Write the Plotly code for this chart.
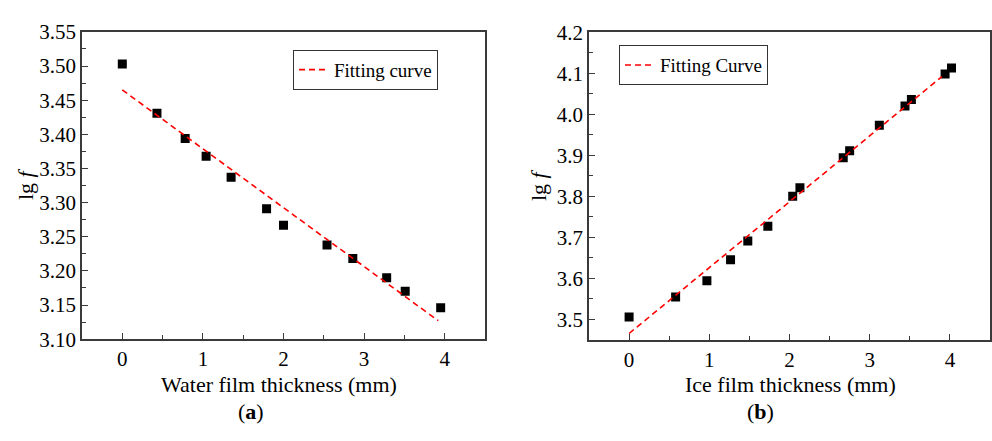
import plotly.graph_objects as go

# ---- data ----
water_x = [0.0, 0.43, 0.78, 1.04, 1.35, 1.79, 2.00, 2.54, 2.86, 3.28, 3.51, 3.95]
water_lgf = [3.503, 3.431, 3.394, 3.368, 3.337, 3.291, 3.267, 3.238, 3.218, 3.190, 3.170, 3.146]
water_fit_x = [0.0, 3.92]
water_fit_y = [3.465, 3.127]

ice_x = [0.0, 0.58, 0.97, 1.265, 1.48, 1.73, 2.04, 2.13, 2.67, 2.75, 3.12, 3.44, 3.52, 3.94, 4.02]
ice_lgf = [3.505, 3.554, 3.594, 3.645, 3.691, 3.727, 3.800, 3.821, 3.894, 3.911, 3.973, 4.020, 4.036, 4.098, 4.113]
ice_fit_x = [0.0, 3.9]
ice_fit_y = [3.465, 4.092]

left_ticks = [3.10, 3.15, 3.20, 3.25, 3.30, 3.35, 3.40, 3.45, 3.50, 3.55]
right_ticks = [3.5, 3.6, 3.7, 3.8, 3.9, 4.0, 4.1, 4.2]
x_ticks = [0, 1, 2, 3, 4]

W, H = 992, 441
FONT = "Liberation Serif"
AXC = "#3a3a3a"

def px(x):
    return x / W

def py(y):
    return 1 - y / H

fig = go.Figure()

marker = dict(symbol="square", size=9, color="black")
dash_line = dict(color="#ff0000", width=1.6, dash="6px,4px")

fig.add_trace(go.Scatter(x=water_x, y=water_lgf, mode="markers", marker=marker,
                         showlegend=False, xaxis="x", yaxis="y"))
fig.add_trace(go.Scatter(x=water_fit_x, y=water_fit_y, mode="lines", line=dash_line,
                         name="Fitting curve", legend="legend", xaxis="x", yaxis="y"))
fig.add_trace(go.Scatter(x=ice_x, y=ice_lgf, mode="markers", marker=marker,
                         showlegend=False, xaxis="x2", yaxis="y2"))
fig.add_trace(go.Scatter(x=ice_fit_x, y=ice_fit_y, mode="lines", line=dash_line,
                         name="Fitting Curve", legend="legend2", xaxis="x2", yaxis="y2"))

tickfont = dict(family=FONT, size=21, color="black")

def xaxis(domain, anchor):
    return dict(domain=domain, anchor=anchor, range=[-0.5, 4.5],
                tickvals=x_ticks, ticktext=[str(v) for v in x_ticks],
                ticks="inside", ticklen=6, tickwidth=1.3, tickcolor=AXC,
                minor=dict(dtick=0.5, tick0=0.5, ticks="inside", ticklen=4, tickwidth=1.1, tickcolor=AXC),
                showline=True, linecolor=AXC, linewidth=1.6, mirror=True,
                showgrid=False, zeroline=False, tickfont=tickfont)

def yaxis(domain, anchor, rng, ticks, fmt, mdt):
    return dict(domain=domain, anchor=anchor, range=rng,
                tickvals=ticks, ticktext=[fmt.format(v) for v in ticks],
                ticks="inside", ticklen=6, tickwidth=1.3, tickcolor=AXC,
                minor=dict(dtick=mdt, ticks="inside", ticklen=4, tickwidth=1.1, tickcolor=AXC),
                showline=True, linecolor=AXC, linewidth=1.6, mirror=True,
                showgrid=False, zeroline=False, tickfont=tickfont)

legend_font = dict(family=FONT, size=19, color="black")

fig.update_layout(
    width=W, height=H,
    margin=dict(l=0, r=0, t=0, b=0),
    paper_bgcolor="white", plot_bgcolor="white",
    font=dict(family=FONT, color="black"),
    xaxis=xaxis([px(82), px(485)], "y"),
    yaxis=yaxis([py(346), py(21)], "x", [3.10, 3.55], left_ticks, "{:.2f}", 0.025),
    xaxis2=xaxis([px(589), px(990)], "y2"),
    yaxis2=yaxis([py(346.5), py(21.5)], "x2", [3.45, 4.2], right_ticks, "{:.1f}", 0.05),
    legend=dict(x=px(293), y=py(40), xanchor="left", yanchor="top",
                bordercolor="#333", borderwidth=1, bgcolor="white",
                font=legend_font, tracegroupgap=0, itemwidth=30),
    legend2=dict(x=px(619), y=py(35), xanchor="left", yanchor="top",
                 bordercolor="#333", borderwidth=1, bgcolor="white",
                 font=legend_font, tracegroupgap=0, itemwidth=30),
)

title_font = dict(family=FONT, size=22, color="black")
annotations = [
    dict(text="Water film thickness (mm)", x=px(279), y=py(394)),
    dict(text="Ice film thickness (mm)", x=px(790), y=py(394)),
    dict(text="(<b>a</b>)", x=px(251), y=py(423)),
    dict(text="(<b>b</b>)", x=px(760), y=py(422)),
    dict(text="lg <i>f</i>", x=px(25), y=py(182), textangle=-90),
    dict(text="lg <i>f</i>", x=px(538), y=py(183), textangle=-90),
]
for a in annotations:
    fig.add_annotation(xref="paper", yref="paper", showarrow=False,
                       xanchor="center", yanchor="middle", font=title_font, **a)

fig.write_html("out.html")
